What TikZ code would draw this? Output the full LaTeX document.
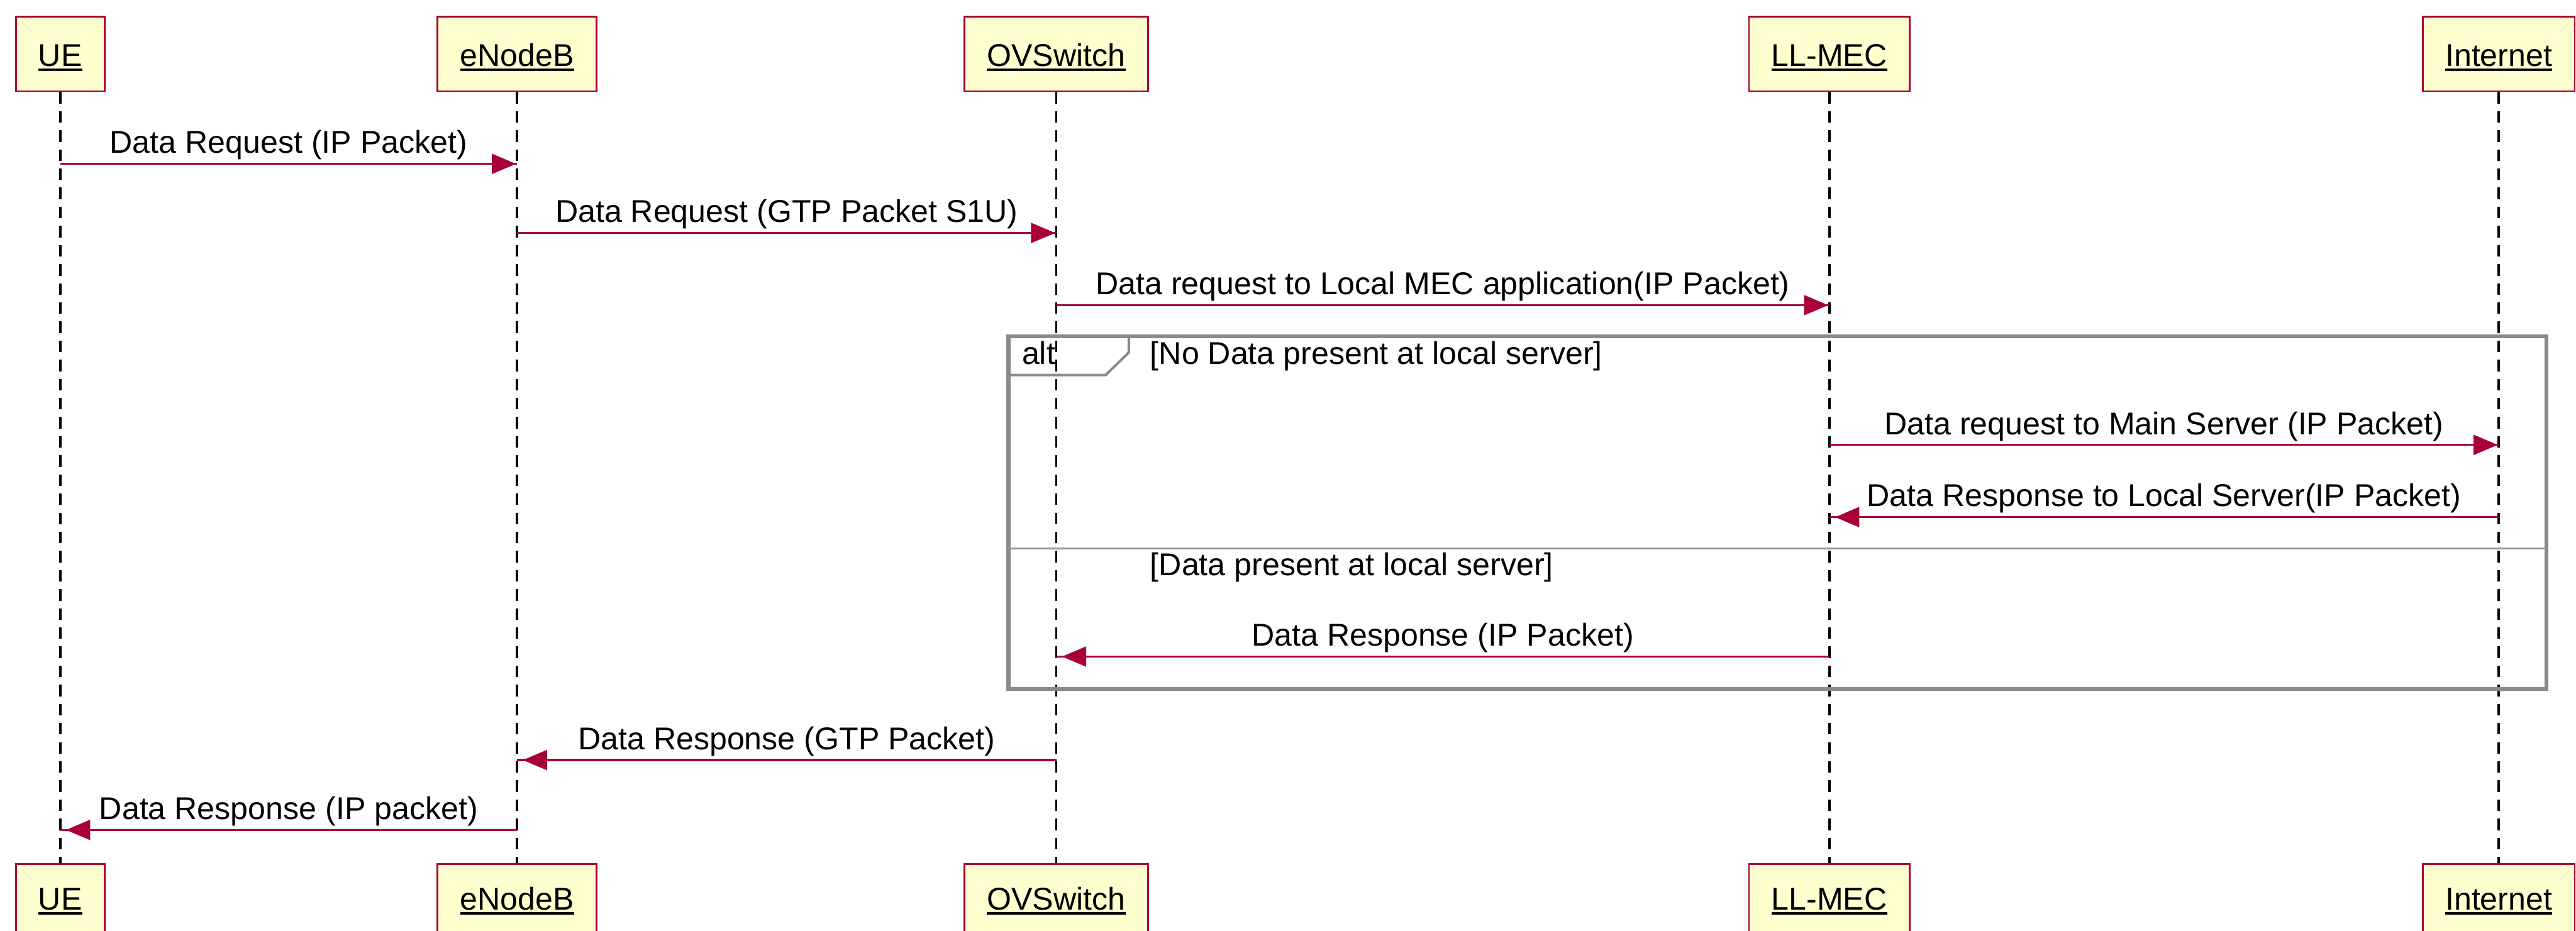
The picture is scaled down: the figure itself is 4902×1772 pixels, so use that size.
\documentclass[tikz,border=0pt]{standalone}
\usepackage{fontspec}
\setmainfont{Liberation Sans}
\usetikzlibrary{arrows.meta}

\definecolor{umlred}{HTML}{A80036}
\definecolor{umlfill}{HTML}{FEFECE}
\definecolor{framegray}{HTML}{8A8A8A}
\definecolor{sepgray}{HTML}{939393}

\newcommand\msgfont{\fontsize{15pt}{18pt}\selectfont}
% participant name with a thick underline
\newcommand\ulname[1]{\setbox0\hbox{#1}\rlap{\rule[-2.2pt]{\wd0}{0.95pt}}\box0}

\tikzset{
  part/.style={draw=umlred, fill=umlfill, line width=0.85pt, rectangle,
    inner xsep=10.7pt, inner ysep=0pt, minimum height=35.5pt,
    font=\msgfont, text depth=0pt},
  parttop/.style={part, text height=11.75pt},
  partbot/.style={part, text height=8.25pt},
  lifeline/.style={draw=black, line width=1.1pt, dash pattern=on 5.5pt off 3.6pt},
  msg/.style={draw=umlred, line width=0.95pt},
  tipR/.style={msg, postaction={draw=umlred, line width=0.95pt,
    -{Triangle[length=11.5pt,width=9.5pt]}, shorten >=0.5pt}},
  tipL/.style={msg, postaction={draw=umlred, line width=0.95pt,
    -{Triangle[length=11.5pt,width=9.5pt]}, shorten >=2.75pt}},
  lbl/.style={font=\msgfont, inner sep=0pt, anchor=base, yshift=5pt},
  frame/.style={draw=framegray, line width=1.9pt},
  tabline/.style={draw=framegray, line width=1.2pt},
  sepline/.style={draw=sepgray, line width=1pt},
  guard/.style={font=\msgfont, inner sep=0pt, anchor=base west},
}

\begin{document}
\begin{tikzpicture}[x=0.25pt, y=-0.25pt]
\useasboundingbox (0,0) rectangle (4902,1772);
\clip (0,0) rectangle (4902,1772);

% message rows
\coordinate (m1) at (0,312);
\coordinate (m2) at (0,443.5);
\coordinate (m3) at (0,581);
\coordinate (m4) at (0,847);
\coordinate (m5) at (0,984.5);
\coordinate (m6) at (0,1250);
\coordinate (m7) at (0,1447);
\coordinate (m8) at (0,1580);

% participants, top row
\node[parttop] (ueT)  at (114.5,102.5) {\ulname{UE}};
\node[parttop] (enbT) at (984,102.5)   {\ulname{eNodeB}};
\node[parttop] (ovsT) at (2010,102.5)  {\ulname{OVSwitch}};
\node[parttop] (mecT) at (3481,102.5)  {\ulname{LL-MEC}};
\node[parttop] (netT) at (4755,102.5)  {\ulname{Internet}};

% participants, bottom row
\node[partbot] (ueB)  at (114.5,1715.5) {\ulname{UE}};
\node[partbot] (enbB) at (984,1715.5)   {\ulname{eNodeB}};
\node[partbot] (ovsB) at (2010,1715.5)  {\ulname{OVSwitch}};
\node[partbot] (mecB) at (3481,1715.5)  {\ulname{LL-MEC}};
\node[partbot] (netB) at (4755,1715.5)  {\ulname{Internet}};

% lifelines
\draw[lifeline] (ueT.south)  -- (ueB.north);
\draw[lifeline] (enbT.south) -- (enbB.north);
\draw[lifeline] (ovsT.south) -- (ovsB.north);
\draw[lifeline] (mecT.south) -- (mecB.north);
\draw[lifeline] (netT.south) -- (netB.north);

% alt fragment
\draw[frame] (1919,640) rectangle (4846,1312);
\draw[tabline] (1919,714) -- (2104,714) -- (2148,671) -- (2148,640);
\node[guard] (altlbl) at (1944,694) {alt};
\node[guard] (g1) at (2188,694) {[No Data present at local server]};
\draw[sepline] (1919,1044) -- (4846,1044);
\node[guard] (g2) at (2188,1096) {[Data present at local server]};

% messages
\draw[tipR] (ueT |- m1) -- node[lbl] {Data Request (IP Packet)} (enbT |- m1);
\draw[tipR] (enbT |- m2) -- node[lbl] {Data Request (GTP Packet S1U)} (ovsT |- m2);
\draw[tipR] (ovsT |- m3) -- node[lbl] {Data request to Local MEC application(IP Packet)} (mecT |- m3);
\draw[tipR] (mecT |- m4) -- node[lbl] {Data request to Main Server (IP Packet)} (netT |- m4);
\draw[tipL] (netT |- m5) -- node[lbl] {Data Response to Local Server(IP Packet)} (mecT |- m5);
\draw[tipL] (mecT |- m6) -- node[lbl] {Data Response (IP Packet)} (ovsT |- m6);
\draw[tipL] (ovsT |- m7) -- node[lbl] {Data Response (GTP Packet)} (enbT |- m7);
\draw[tipL] (enbT |- m8) -- node[lbl] {Data Response (IP packet)} (ueT |- m8);
\end{tikzpicture}
\end{document}
